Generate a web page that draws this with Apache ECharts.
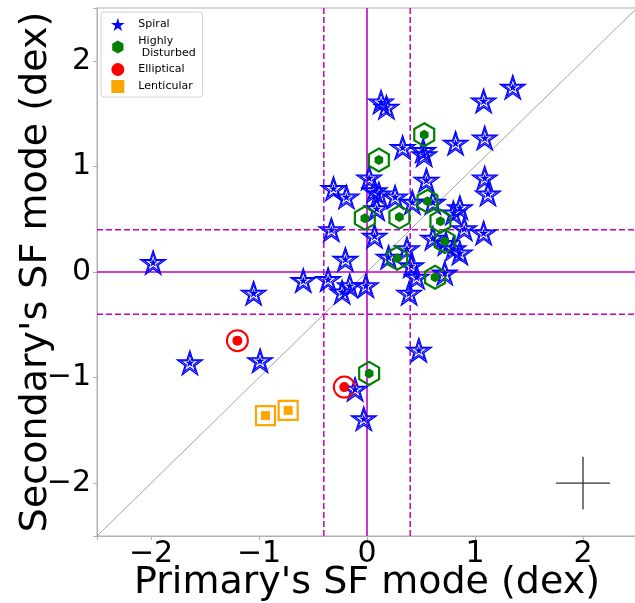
<!DOCTYPE html>
<html><head><meta charset="utf-8">
<script src="https://cdn.jsdelivr.net/npm/echarts@6/dist/echarts.min.js"></script>
<style>html,body{margin:0;padding:0;background:#fff;overflow:hidden}#c{width:635px;height:603px}</style>
</head><body><div id="c"></div>
<script>
// ---- data ----
const spiral = [
 [1.35,1.75],[1.08,1.62],[0.13,1.61],[0.18,1.56],[1.09,1.27],[0.82,1.22],[0.33,1.18],
 [0.52,1.15],[0.53,1.11],[0.55,0.87],[1.09,0.89],[1.12,0.74],[-0.31,0.79],[-0.19,0.71],
 [0.02,0.89],[0.07,0.77],[0.11,0.74],[0.26,0.71],[0.09,0.60],[0.42,0.66],[0.61,0.66],
 [0.80,0.56],[0.86,0.61],[0.90,0.41],[1.08,0.37],[-0.33,0.40],[0.07,0.34],[0.61,0.32],
 [0.80,0.22],[0.86,0.18],[0.37,0.22],[0.20,0.14],[0.41,0.06],[0.46,-0.05],[0.39,-0.20],
 [0.72,-0.01],[0.73,0.27],[-0.20,0.12],[-0.59,-0.08],[-0.36,-0.07],[-0.23,-0.19],[-0.16,-0.13],
 [-0.01,-0.13],[-1.05,-0.20],[-1.98,0.09],[-1.64,-0.86],[-0.99,-0.84],[0.48,-0.74],
 [-0.11,-1.11],[-0.03,-1.39]
];
const disturbed = [
 [0.53,1.30],[0.11,1.06],[0.56,0.67],[-0.02,0.51],[0.30,0.52],[0.68,0.48],[0.72,0.29],
 [0.28,0.13],[0.63,-0.05],[0.02,-0.96]
];
const elliptical = [[-1.20,-0.65],[-0.21,-1.09]];
const lenticular = [[-0.94,-1.36],[-0.73,-1.31]];
const axisMin = -2.5, axisMax = 2.5;
const threshold = 0.4;          // dashed lines at +/- threshold
const errPoint = [2, -2];       // representative error cross
const errHalf = [0.25, 0.25];
const xTitle = "Primary's SF mode (dex)";
const yTitle = "Secondary's SF mode (dex)";
const legendNames = ['Spiral', 'Highly\n Disturbed', 'Elliptical', 'Lenticular'];

// ---- symbols ----
function starPath(){
  let p='';
  for(let i=0;i<10;i++){
    const a=(-90+i*36)*Math.PI/180, r=i%2===0?1:0.382;
    p+=(i===0?'M':'L')+(r*Math.cos(a)).toFixed(4)+' '+(r*Math.sin(a)).toFixed(4)+' ';
  }
  return 'path://'+p+'Z';
}
function hexPath(){
  let p='';
  for(let i=0;i<6;i++){
    const a=(-90+i*60)*Math.PI/180;
    p+=(i===0?'M':'L')+Math.cos(a).toFixed(4)+' '+Math.sin(a).toFixed(4)+' ';
  }
  return 'path://'+p+'Z';
}
const STAR=starPath(), HEX=hexPath(), SQ='path://M0 0 L1 0 L1 1 L0 1 Z';
const FONT='DejaVu Sans';
const MAG='#bf00bf';

function hollow(data,symbol,size,color,bw){
  return {type:'scatter',data:data,symbol:symbol,symbolSize:size,symbolKeepAspect:true,
    itemStyle:{color:'rgba(0,0,0,0)',borderColor:color,borderWidth:bw,opacity:1},
    z:5,silent:true,emphasis:{disabled:true}};
}
function filled(name,data,symbol,size,color){
  return {type:'scatter',name:name,data:data,symbol:symbol,symbolSize:size,symbolKeepAspect:true,
    itemStyle:{color:color,opacity:1},z:6,silent:true,emphasis:{disabled:true}};
}
function seg(data,color,width,type,z){
  return {type:'line',data:data,symbol:'none',silent:true,z:z||2,color:color,
    itemStyle:{color:color},
    lineStyle:{color:color,width:width,type:type||'solid',opacity:1},
    emphasis:{disabled:true},animation:false};
}

const series=[
  seg([[axisMin,axisMin],[axisMax,axisMax]],'#8c8c8c',0.8,'solid',1),
  seg([[0,axisMin],[0,axisMax]],MAG,1.6),
  seg([[axisMin,0],[axisMax,0]],MAG,1.6),
  seg([[threshold,axisMin],[threshold,axisMax]],MAG,1.5,[6,3]),
  seg([[-threshold,axisMin],[-threshold,axisMax]],MAG,1.5,[6,3]),
  seg([[axisMin,threshold],[axisMax,threshold]],MAG,1.5,[6,3]),
  seg([[axisMin,-threshold],[axisMax,-threshold]],MAG,1.5,[6,3]),
  seg([[errPoint[0]-errHalf[0],errPoint[1]],[errPoint[0]+errHalf[0],errPoint[1]]],'#333',1.3),
  seg([[errPoint[0],errPoint[1]-errHalf[1]],[errPoint[0],errPoint[1]+errHalf[1]]],'#333',1.3),
  hollow(spiral,STAR,25,'#0000ff',1.3),
  hollow(spiral,STAR,18,'#0000ff',1.1),
  filled(legendNames[0],spiral,STAR,9,'#0000ff'),
  hollow(disturbed,HEX,23,'#008000',2.2),
  filled(legendNames[1],disturbed,HEX,10,'#008000'),
  hollow(elliptical,'circle',21,'#ff0000',2),
  filled(legendNames[2],elliptical,'circle',10,'#ff0000'),
  hollow(lenticular,SQ,19,'#ffa500',2.2),
  filled(legendNames[3],lenticular,SQ,9,'#ffa500')
];

function tickFmt(v){
  if(Math.abs(v-Math.round(v))>1e-6) return '';
  const r=Math.round(v);
  return r<0?'\u2212'+Math.abs(r):String(r);
}
const axisCommon={
  type:'value',min:axisMin,max:axisMax,splitNumber:5,
  splitLine:{show:false},
  axisLine:{show:true,onZero:false,lineStyle:{color:'#b0b0b0',width:1}},
  axisTick:{show:true,length:4,lineStyle:{color:'#b0b0b0'}},
  axisLabel:{fontFamily:FONT,fontSize:30,color:'#000',formatter:tickFmt,margin:6},
  nameLocation:'middle',
  nameMoveOverlap:false,
  nameTextStyle:{fontFamily:FONT,fontSize:38,color:'#000'}
};

const chart=echarts.init(document.getElementById('c'),null,{renderer:'canvas'});
chart.setOption({
  animation:false,
  backgroundColor:'#fff',
  grid:{left:97,top:8,right:-2,bottom:67,containLabel:false,outerBoundsMode:'none',
    show:true,borderColor:'#b0b0b0',borderWidth:1,backgroundColor:'transparent'},
  xAxis:Object.assign({},axisCommon,{name:xTitle,nameGap:28,
    axisLabel:Object.assign({},axisCommon.axisLabel,{margin:3})}),
  yAxis:Object.assign({},axisCommon,{name:yTitle,nameGap:42}),
  legend:{
    orient:'vertical',left:101,top:12,
    backgroundColor:'#fff',borderColor:'#d0d0d0',borderWidth:1,borderRadius:3,
    padding:[6,7,4,10],itemGap:4,itemWidth:31,itemHeight:13,
    textStyle:{fontFamily:FONT,fontSize:11,color:'#000',lineHeight:12},
    data:[
      {name:legendNames[0],icon:STAR},
      {name:legendNames[1],icon:HEX},
      {name:legendNames[2],icon:'circle'},
      {name:legendNames[3],icon:SQ}
    ],
    selectedMode:false
  },
  series:series
});
</script></body></html>
